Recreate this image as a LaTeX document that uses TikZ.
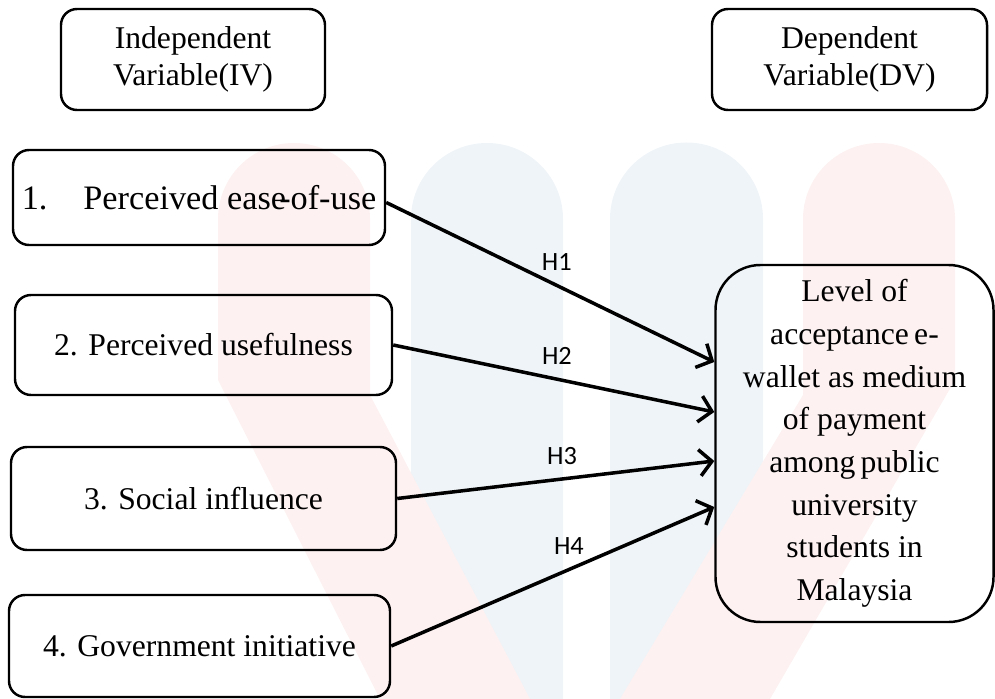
\documentclass[tikz,border=0pt]{standalone}
\usepackage{fontspec}
\setmainfont{Liberation Serif}
\newfontfamily\labelfont{Carlito}
\usetikzlibrary{arrows.meta}
\definecolor{wmblue}{HTML}{EFF4F8}
\definecolor{wmred}{HTML}{FDF1F1}

\begin{document}
\begin{tikzpicture}[
    font=\fontsize{18}{21}\selectfont,
    box/.style={draw, line width=1.4pt, rounded corners=0.32cm, align=center, inner sep=0pt},
    link/.style={line width=2pt, -{Straight Barb[length=7pt, width=15pt, line width=2pt]}},
    hyp/.style={font=\labelfont\fontsize{15}{18}\selectfont, above=4pt}
]
    \useasboundingbox (0,0) rectangle (19.9,-13.98);

    % --- Faint watermark behind the diagram ---
    \fill[wmblue] (8.22,-13.98) -- (8.22,-4.38) arc (180:0:1.52) -- (11.26,-13.98) -- cycle;
    \fill[wmblue] (12.2,-13.98) -- (12.2,-4.38) arc (180:0:1.53) -- (15.26,-13.98) -- cycle;
    \fill[wmred] (4.36,-7.6) -- (4.36,-4.38) arc (180:0:1.52) -- (7.4,-7.9)
        -- (10.6,-13.98) -- (7.6,-13.98) -- cycle;
    \fill[wmred] (19.1,-7.6) -- (19.1,-4.38) arc (0:180:1.52) -- (16.06,-7.9)
        -- (12.4,-13.98) -- (15.4,-13.98) -- cycle;

    % --- Column headers ---
    \node[box, minimum width=5.28cm, minimum height=2.02cm] (iv) at (3.86,-1.19) {Independent\\Variable(IV)};
    \node[box, minimum width=5.5cm, minimum height=2.02cm] (dvhead) at (16.99,-1.19) {Dependent\\Variable(DV)};

    % --- Independent variables ---
    \node[box, minimum width=7.44cm, minimum height=1.9cm, font=\fontsize{19.5}{21}\selectfont] (b1) at (3.98,-3.95)
        {1.\hspace{1.05em}Perceived ease\kern-0.2em-of-use};
    \node[box, minimum width=7.54cm, minimum height=2.0cm] (b2) at (4.07,-6.9) {2. Perceived usefulness};
    \node[box, minimum width=7.7cm, minimum height=2.06cm] (b3) at (4.07,-9.97) {3. Social influence};
    \node[box, minimum width=7.62cm, minimum height=2.04cm] (b4) at (3.99,-12.92) {4. Government initiative};

    % --- Dependent variable ---
    \node[box, rounded corners=0.9cm, minimum width=5.56cm, minimum height=7.14cm,
          font=\fontsize{18}{24.3}\selectfont] (dv) at (17.09,-8.87)
        {Level of\\acceptance\,e-\\wallet as medium\\of payment\\among\,public\\university\\students in\\Malaysia};

    % --- Hypotheses ---
    \draw[link] ([yshift=-1mm]b1.east) -- ([yshift=1.63cm]dv.west) node[hyp, pos=0.52] {H1};
    \draw[link] (b2.east) -- ([yshift=0.63cm]dv.west) node[hyp, pos=0.51] {H2};
    \draw[link] (b3.east) -- ([yshift=-0.35cm]dv.west) node[hyp, pos=0.52] {H3};
    \draw[link] (b4.east) -- ([yshift=-1.27cm]dv.west) node[hyp, pos=0.55] {H4};

\end{tikzpicture}
\end{document}
